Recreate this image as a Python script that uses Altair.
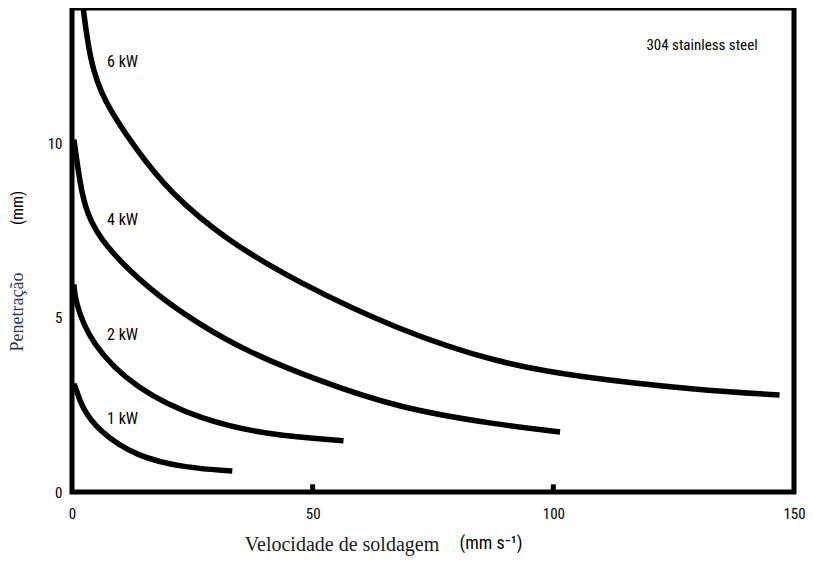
import altair as alt
import pandas as pd

# 6 kW
v6 = [2.3, 3.7, 6.4, 13.4, 20.2, 32, 47.1, 67.8, 88.4, 105, 130, 147]
d6 = [13.9, 12.38, 11.23, 9.8, 8.6, 7.22, 5.99, 4.64, 3.70, 3.3, 2.92, 2.78]
# 4 kW
v4 = [0.4, 1.7, 3.0, 6.4, 16, 26.4, 36.8, 50, 67.8, 88.4, 101.4]
d4 = [10.1, 8.8, 8.0, 7.1, 5.8, 4.8, 4.0, 3.25, 2.4, 1.93, 1.72]
# 2 kW
v2 = [0.4, 0.6, 3.7, 13.4, 27, 40.9, 56.4]
d2 = [5.95, 5.5, 4.27, 2.92, 2.06, 1.63, 1.47]
# 1 kW
v1 = [0.4, 1.0, 2.0, 5.2, 13.4, 23.8, 33.3]
d1 = [3.1, 2.9, 2.45, 1.78, 1.0, 0.69, 0.6]

powers = ["6 kW", "4 kW", "2 kW", "1 kW"]
label_v = [10.5, 10.5, 10.5, 10.5]
label_d = [12.32, 7.8, 4.5, 2.1]

x_ticks = [0, 50, 100, 150]
y_ticks = [0, 5, 10]
inner_ticks = [50, 100]

rows = []
for p, vs, ds in zip(powers, [v6, v4, v2, v1], [d6, d4, d2, d1]):
    for v, d in zip(vs, ds):
        rows.append({"power": p, "v": v, "d": d})
df = pd.DataFrame(rows)
lab = pd.DataFrame({"power": powers, "v": label_v, "d": label_d})
tk = pd.DataFrame({"v": inner_ticks, "d0": [0] * len(inner_ticks), "d1": [0.22] * len(inner_ticks)})

W, H = 722, 484
YMAX = 13.87
cond = "Liberation Sans Narrow, Roboto Condensed, DejaVu Sans Condensed, sans-serif"
serif = "Liberation Serif, Times New Roman, serif"

xs = alt.Scale(domain=[0, 150], nice=False, zero=False)
ys = alt.Scale(domain=[0, YMAX], nice=False, zero=False)

xax = alt.Axis(values=x_ticks, title=None, grid=False, domain=False, ticks=False,
               labelFont=cond, labelFontSize=15, labelColor="black", labelPadding=14,
               labelFlush=False)
yax = alt.Axis(values=y_ticks, title=None, grid=False, domain=False, ticks=False,
               labelFont=cond, labelFontSize=15, labelColor="black", labelPadding=10)

lines = alt.Chart(df).mark_line(color="black", strokeWidth=5.5, interpolate="basis",
                                clip=True, strokeCap="butt").encode(
    x=alt.X("v:Q", scale=xs, axis=xax),
    y=alt.Y("d:Q", scale=ys, axis=yax),
    detail="power:N",
)

labels = alt.Chart(lab).mark_text(font=cond, fontSize=16, color="black", align="center",
                                  baseline="middle").encode(
    x=alt.X("v:Q", scale=xs), y=alt.Y("d:Q", scale=ys), text="power:N")

ticks = alt.Chart(tk).mark_rule(color="black", strokeWidth=5).encode(
    x=alt.X("v:Q", scale=xs), y=alt.Y("d0:Q", scale=ys), y2="d1:Q")

note = alt.Chart(pd.DataFrame({"t": ["304 stainless steel"]})).mark_text(
    font=cond, fontSize=15, color="black", align="center", baseline="middle").encode(
    x=alt.value(630), y=alt.value(37), text="t:N")

ytitle1 = alt.Chart(pd.DataFrame({"t": ["Penetração"]})).mark_text(
    font=serif, fontSize=18, color="#1f3864",
    angle=270, align="center", baseline="middle").encode(
    x=alt.value(-54), y=alt.value(304), text="t:N")
ytitle2 = alt.Chart(pd.DataFrame({"t": ["(mm)"]})).mark_text(
    font=cond, fontSize=16, color="black",
    angle=270, align="center", baseline="middle").encode(
    x=alt.value(-54), y=alt.value(200), text="t:N")
xtitle1 = alt.Chart(pd.DataFrame({"t": ["Velocidade de soldagem"]})).mark_text(
    font=serif, fontSize=20, color="#1a1a1a",
    align="center", baseline="middle").encode(
    x=alt.value(270), y=alt.value(537), text="t:N")
xtitle2 = alt.Chart(pd.DataFrame({"t": ["(mm s\u207b\u00b9)"]})).mark_text(
    font=cond, fontSize=18, color="black",
    align="center", baseline="middle").encode(
    x=alt.value(419), y=alt.value(536), text="t:N")

chart = alt.layer(lines, labels, ticks, note, ytitle1, ytitle2, xtitle1, xtitle2).properties(
    width=W, height=H,
    autosize=alt.AutoSizeParams(type="none"),
    padding={"left": 64, "top": 0, "right": 11, "bottom": 64},
    background="white",
).configure_view(stroke="black", strokeWidth=5)

chart.save("out.html", embed_options={"renderer": "svg", "actions": False})
